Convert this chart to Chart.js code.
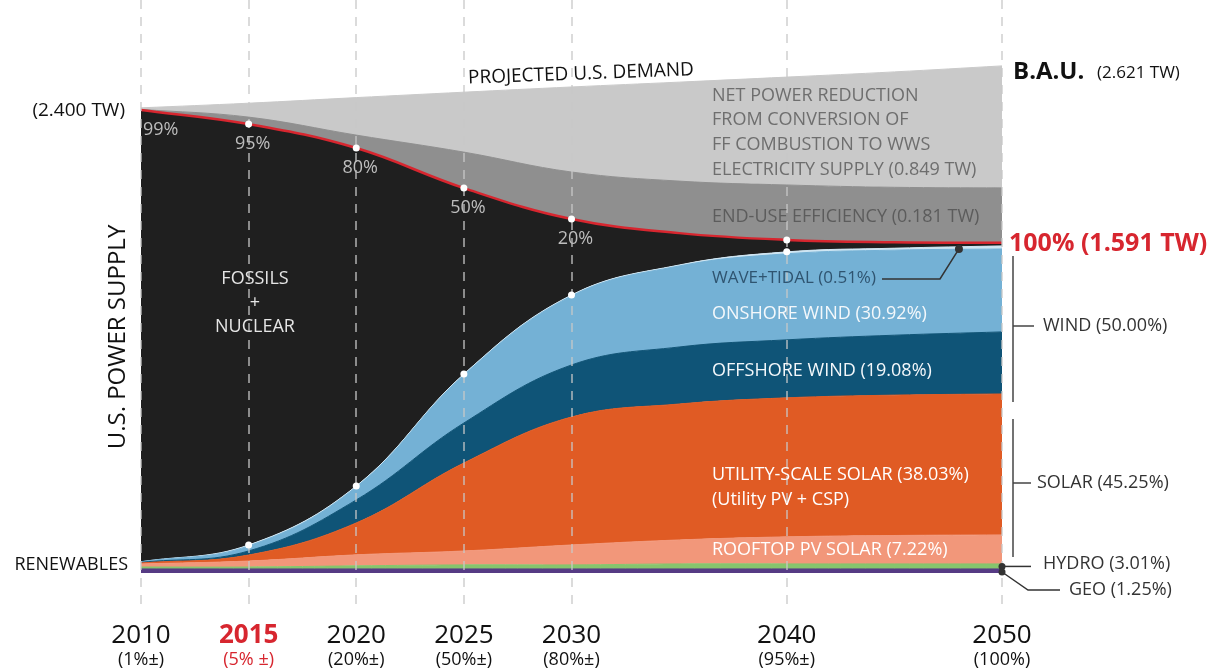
<!DOCTYPE html>
<html>
<head>
<meta charset="utf-8">
<title>U.S. power supply transition to WWS</title>
<script src="https://cdn.jsdelivr.net/npm/chart.js@4.4.0/dist/chart.umd.min.js"></script>
<style>
    body { margin: 0; background: #fff; }
    canvas { display: block; }
</style>
</head>
<body>
<canvas id="supplyChart" width="1220" height="670"></canvas>
<script>
// years on the x axis, layer heights in TW as drawn (stacked bottom to top)
var years = [2010, 2015, 2020, 2025, 2030, 2035, 2040, 2045, 2050];
var geo = [0.021, 0.021, 0.021, 0.021, 0.021, 0.021, 0.021, 0.021, 0.021];
var hydro = [0.010, 0.010, 0.016, 0.021, 0.021, 0.026, 0.026, 0.026, 0.026];
var rooftopPV = [0.016, 0.031, 0.057, 0.072, 0.103, 0.124, 0.140, 0.147, 0.150];
var utilitySolar = [0.005, 0.031, 0.165, 0.455, 0.662, 0.703, 0.719, 0.726, 0.729];
var offshoreWind = [0.003, 0.021, 0.119, 0.207, 0.269, 0.295, 0.300, 0.310, 0.321];
var onshoreWind = [0.003, 0.026, 0.067, 0.248, 0.357, 0.419, 0.445, 0.440, 0.429];
var waveTidal = [0.000, 0.005, 0.005, 0.005, 0.005, 0.005, 0.010, 0.010, 0.016];
var fossilNuclear = [2.337, 2.177, 1.748, 0.962, 0.393, 0.165, 0.062, 0.031, 0.016];
var endUseEfficiency = [0.003, 0.036, 0.067, 0.186, 0.243, 0.269, 0.284, 0.284, 0.284];
var netReduction = [0.008, 0.072, 0.194, 0.310, 0.440, 0.512, 0.558, 0.597, 0.631];

var tickYears = [2010, 2015, 2020, 2025, 2030, 2040, 2050];
var tickShares = ['(1%\u00b1)', '(5% \u00b1)', '(20%\u00b1)', '(50%\u00b1)', '(80%\u00b1)', '(95%\u00b1)', '(100%)'];
var dotYears = [2015, 2020, 2025, 2030, 2040];
var fossilShares = ['99%', '95%', '80%', '50%', '20%'];

var FONT = '"Open Sans", sans-serif';
var RED = '#d7262f';

function pts(values) {
    return values.map(function(v, i) { return { x: years[i], y: v }; });
}

function layer(label, values, color, fill) {
    return {
        label: label,
        data: pts(values),
        backgroundColor: color,
        borderColor: color,
        borderWidth: 1,
        fill: fill || '-1',
        pointRadius: 0,
        tension: 0.4
    };
}

function text(ctx, str, x, y, font, color, align) {
    ctx.font = font;
    ctx.fillStyle = color;
    ctx.textAlign = align || 'left';
    ctx.textBaseline = 'middle';
    ctx.fillText(str, x, y);
}

function line(ctx, coords, color, width) {
    ctx.beginPath();
    ctx.moveTo(coords[0], coords[1]);
    for (var i = 2; i < coords.length; i += 2) {
        ctx.lineTo(coords[i], coords[i + 1]);
    }
    ctx.strokeStyle = color;
    ctx.lineWidth = width || 1.5;
    ctx.stroke();
}

function dot(ctx, x, y, r, color) {
    ctx.beginPath();
    ctx.arc(x, y, r, 0, Math.PI * 2);
    ctx.fillStyle = color;
    ctx.fill();
}

var fossilLayer = layer('Fossils + Nuclear', fossilNuclear, '#1f1f1f');
fossilLayer.borderColor = RED;
fossilLayer.borderWidth = 2.5;

var gridAndDots = {
    id: 'gridAndDots',
    afterDatasetsDraw: function(chart) {
        var ctx = chart.ctx;
        var xs = chart.scales.x;
        ctx.save();
        ctx.setLineDash([9, 8]);
        tickYears.forEach(function(yr) {
            var x = Math.round(xs.getPixelForValue(yr));
            line(ctx, [x, 0, x, 612], 'rgba(200,200,200,0.65)', 2);
        });
        ctx.setLineDash([]);
        var wave = chart.getDatasetMeta(6).data;
        var fossil = chart.getDatasetMeta(7).data;
        dotYears.forEach(function(yr) {
            var i = years.indexOf(yr);
            dot(ctx, fossil[i].x, fossil[i].y, 3.5, '#fff');
            dot(ctx, wave[i].x, wave[i].y, 3.5, '#fff');
        });
        ctx.restore();
    }
};

var annotations = {
    id: 'annotations',
    afterDraw: function(chart) {
        var ctx = chart.ctx;
        var xs = chart.scales.x;
        var ys = chart.scales.y;
        var fossil = chart.getDatasetMeta(7).data;
        var last = years.length - 1;
        var xEnd = xs.getPixelForValue(2050);
        ctx.save();

        // year ticks under the chart
        tickYears.forEach(function(yr, i) {
            var x = xs.getPixelForValue(yr);
            var hot = yr === 2015;
            text(ctx, String(yr), x, 636, (hot ? 'bold ' : '') + '26px ' + FONT, hot ? RED : '#111', 'center');
            text(ctx, tickShares[i], x, 660, '18px ' + FONT, hot ? RED : '#111', 'center');
        });

        // fossil share along the red line
        fossilShares.forEach(function(s, i) {
            var p = fossil[years.indexOf(tickYears[i])];
            if (i === 0) {
                text(ctx, s, p.x + 2, p.y + 20, '18px ' + FONT, '#bdbdbd', 'left');
            } else {
                text(ctx, s, p.x + 4, p.y + 20, '18px ' + FONT, '#bdbdbd', 'center');
            }
        });

        // left side
        text(ctx, '(2.400 TW)', 125, 111, '19px ' + FONT, '#111', 'right');
        text(ctx, 'RENEWABLES', 128, 565, '18px ' + FONT, '#111', 'right');
        ctx.save();
        ctx.translate(118, 337);
        ctx.rotate(-Math.PI / 2);
        text(ctx, 'U.S. POWER SUPPLY', 0, 0, '24px ' + FONT, '#111', 'center');
        ctx.restore();
        text(ctx, 'FOSSILS', 255, 279, '18px ' + FONT, '#e6e6e6', 'center');
        text(ctx, '+', 255, 303, '18px ' + FONT, '#e6e6e6', 'center');
        text(ctx, 'NUCLEAR', 255, 327, '18px ' + FONT, '#e6e6e6', 'center');

        // demand label following the top edge
        ctx.save();
        ctx.translate(581, 74);
        ctx.rotate(-0.037);
        text(ctx, 'PROJECTED U.S. DEMAND', 0, 0, '19px ' + FONT, '#111', 'center');
        ctx.restore();

        // labels inside the layers
        var lx = 712;
        text(ctx, 'NET POWER REDUCTION', lx, 96, '18px ' + FONT, '#6e6e6e');
        text(ctx, 'FROM CONVERSION OF', lx, 120, '18px ' + FONT, '#6e6e6e');
        text(ctx, 'FF COMBUSTION TO WWS', lx, 145, '18px ' + FONT, '#6e6e6e');
        text(ctx, 'ELECTRICITY SUPPLY (0.849 TW)', lx, 170, '18px ' + FONT, '#6e6e6e');
        text(ctx, 'END-USE EFFICIENCY (0.181 TW)', lx, 217, '18px ' + FONT, '#5c5c5c');
        text(ctx, 'WAVE+TIDAL (0.51%)', lx, 278, '17px ' + FONT, '#2f5470');
        text(ctx, 'ONSHORE WIND (30.92%)', lx, 314, '18px ' + FONT, '#f4f8fb');
        text(ctx, 'OFFSHORE WIND (19.08%)', lx, 371, '18px ' + FONT, '#f4f8fb');
        text(ctx, 'UTILITY-SCALE SOLAR (38.03%)', lx, 475, '18px ' + FONT, '#fff');
        text(ctx, '(Utility PV + CSP)', lx, 500, '18px ' + FONT, '#fff');
        text(ctx, 'ROOFTOP PV SOLAR (7.22%)', lx, 550, '18px ' + FONT, '#fff');

        // wave+tidal leader
        var wave = chart.getDatasetMeta(6).data[last];
        var wx = xs.getPixelForValue(2048);
        line(ctx, [882, 279, 940, 279, wx, wave.y + 3], '#333', 1.5);
        dot(ctx, wx, wave.y + 3, 4, '#333');

        // right side
        text(ctx, 'B.A.U.', 1013, 72, 'bold 24px ' + FONT, '#111');
        text(ctx, '(2.621 TW)', 1097, 73, '17px ' + FONT, '#111');
        text(ctx, '100% (1.591 TW)', 1009, 244, 'bold 25px ' + FONT, RED);

        line(ctx, [1013, 256, 1013, 402], '#444', 1.5);
        line(ctx, [1013, 326, 1034, 326], '#444', 1.5);
        text(ctx, 'WIND (50.00%)', 1043, 326, '18px ' + FONT, '#333');

        line(ctx, [1013, 419, 1013, 557], '#444', 1.5);
        line(ctx, [1013, 483, 1031, 483], '#444', 1.5);
        text(ctx, 'SOLAR (45.25%)', 1037, 483, '18px ' + FONT, '#333');

        var hydroTop = chart.getDatasetMeta(1).data[last].y;
        var geoTop = chart.getDatasetMeta(0).data[last].y;
        var hy = (hydroTop + geoTop) / 2;
        line(ctx, [xEnd, hy, 1031, hy], '#333', 1.5);
        dot(ctx, xEnd, hy, 3.5, '#333');
        text(ctx, 'HYDRO (3.01%)', 1043, 564, '18px ' + FONT, '#333');

        var gy = ys.getPixelForValue(0) - 1;
        line(ctx, [xEnd, gy, 1028, 590, 1060, 590], '#333', 1.5);
        dot(ctx, xEnd, gy, 3.5, '#333');
        text(ctx, 'GEO (1.25%)', 1069, 590, '18px ' + FONT, '#333');

        ctx.restore();
    }
};

var ctx = document.getElementById('supplyChart').getContext('2d');
var supplyChart = new Chart(ctx, {
    type: 'line',
    data: {
        datasets: [
            layer('Geo', geo, '#563b84', 'origin'),
            layer('Hydro', hydro, '#86c56d'),
            layer('Rooftop PV solar', rooftopPV, '#f2977a'),
            layer('Utility-scale solar', utilitySolar, '#e05b24'),
            layer('Offshore wind', offshoreWind, '#0f5477'),
            layer('Onshore wind', onshoreWind, '#74b1d5'),
            layer('Wave + tidal', waveTidal, '#cfe6f3'),
            fossilLayer,
            layer('End-use efficiency', endUseEfficiency, '#8f8f8f'),
            layer('Net power reduction', netReduction, '#c9c9c9')
        ]
    },
    options: {
        responsive: false,
        animation: false,
        events: [],
        layout: {
            padding: { left: 141, right: 218, top: 51, bottom: 97 }
        },
        scales: {
            x: { type: 'linear', min: 2010, max: 2050, display: false },
            y: { stacked: true, min: 0, max: 2.7, display: false }
        },
        plugins: {
            legend: { display: false },
            tooltip: { enabled: false }
        }
    },
    plugins: [gridAndDots, annotations]
});
</script>
</body>
</html>
